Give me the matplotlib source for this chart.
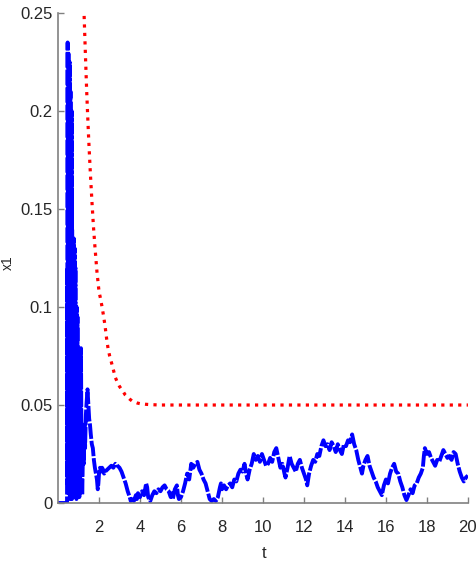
import matplotlib
matplotlib.use("Agg")
import matplotlib.pyplot as plt

plt.rcParams['font.family'] = ['Liberation Sans Narrow', 'Liberation Sans', 'DejaVu Sans']

# blue trajectory x1(t)
t_blue = [0.0, 0.44, 0.45, 0.46, 0.47, 0.48, 0.49, 0.50, 0.51, 0.52, 0.53, 0.54, 0.55, 0.56, 0.57, 0.58, 0.59,
          0.60, 0.61, 0.62, 0.63, 0.64, 0.65, 0.66, 0.67, 0.68, 0.69, 0.70, 0.71, 0.72, 0.73, 0.74, 0.75, 0.76,
          0.77, 0.78, 0.79, 0.80, 0.81, 0.82, 0.83, 0.84, 0.85, 0.86, 0.87, 0.88, 0.89, 0.90, 0.91, 0.92, 0.93,
          0.94, 0.95, 0.96, 0.97, 0.98, 0.99, 1.00, 1.02, 1.04, 1.06, 1.08, 1.10, 1.12, 1.14, 1.16, 1.18, 1.20,
          1.23, 1.26, 1.29, 1.32, 1.36, 1.40, 1.44, 1.48, 1.52, 1.56, 1.60, 1.65, 1.70, 1.75, 1.80, 1.85, 1.90,
          1.94, 1.97, 2.0, 2.05, 2.1, 2.15, 2.2, 2.25, 2.3, 2.4, 2.5, 2.6, 2.7, 2.8, 2.9, 3.0, 3.1, 3.2, 3.3,
          3.4, 3.5, 3.55, 3.6, 3.7, 3.8, 3.85, 3.9, 4.0, 4.1, 4.2, 4.3, 4.35, 4.4, 4.5, 4.6, 4.7, 4.8, 4.9, 5.0,
          5.1, 5.2, 5.3, 5.4, 5.5, 5.55, 5.6, 5.7, 5.8, 5.85, 5.9, 6.0, 6.1, 6.2, 6.3, 6.4, 6.5, 6.6, 6.7, 6.8,
          6.9, 7.0, 7.1, 7.2, 7.3, 7.4, 7.5, 7.6, 7.7, 7.8, 7.9, 7.95, 8.0, 8.1, 8.2, 8.3, 8.4, 8.5, 8.6, 8.7,
          8.8, 8.9, 9.0, 9.1, 9.2, 9.25, 9.35, 9.45, 9.55, 9.65, 9.75, 9.85, 9.95, 10.05, 10.15, 10.25, 10.35,
          10.45, 10.55, 10.65, 10.75, 10.85, 10.95, 11.05, 11.1, 11.2, 11.3, 11.4, 11.5, 11.6, 11.7, 11.8, 11.9,
          12.0, 12.1, 12.16, 12.25, 12.35, 12.45, 12.55, 12.65, 12.75, 12.85, 12.95, 13.05, 13.15, 13.25, 13.35,
          13.45, 13.55, 13.65, 13.75, 13.85, 13.95, 14.05, 14.15, 14.25, 14.35, 14.45, 14.55, 14.65, 14.75,
          14.83, 14.9, 15.0, 15.1, 15.2, 15.3, 15.4, 15.5, 15.6, 15.7, 15.8, 15.9, 16.0, 16.1, 16.2, 16.3, 16.4,
          16.5, 16.6, 16.7, 16.8, 16.9, 17.0, 17.1, 17.2, 17.3, 17.4, 17.5, 17.6, 17.7, 17.8, 17.85, 17.9, 18.0,
          18.1, 18.2, 18.3, 18.4, 18.5, 18.6, 18.7, 18.8, 18.9, 19.0, 19.1, 19.2, 19.3, 19.4, 19.5, 19.6, 19.7,
          19.8, 19.9, 20.0]
x1_blue = [0.0, 0.0, 0.12, 0.01, 0.235, 0.02, 0.21, 0.005, 0.23, 0.03, 0.22, 0.01, 0.20, 0.04, 0.225, 0.002, 0.19,
           0.02, 0.21, 0.05, 0.18, 0.01, 0.16, 0.03, 0.20, 0.002, 0.14, 0.04, 0.135, 0.01, 0.13, 0.06, 0.12, 0.003,
           0.135, 0.02, 0.11, 0.05, 0.13, 0.004, 0.10, 0.03, 0.12, 0.01, 0.10, 0.04, 0.09, 0.002, 0.10, 0.03, 0.08,
           0.01, 0.095, 0.02, 0.06, 0.005, 0.05, 0.01, 0.045, 0.003, 0.03, 0.01, 0.05, 0.079, 0.04, 0.02, 0.004, 0.015,
           0.035, 0.02, 0.04, 0.028, 0.045, 0.052, 0.058, 0.05, 0.043, 0.04, 0.035, 0.03, 0.028, 0.022, 0.018, 0.015, 0.012,
           0.007, 0.01, 0.015, 0.018, 0.016, 0.018, 0.017, 0.015, 0.016, 0.017, 0.018, 0.019, 0.018, 0.02, 0.019, 0.018, 0.016, 0.013, 0.01,
           0.006, 0.003, 0.001, 0.002, 0.001, 0.004, 0.002, 0.005, 0.003, 0.006, 0.004, 0.01, 0.008, 0.003, 0.001, 0.004, 0.006, 0.005, 0.007, 0.006,
           0.008, 0.009, 0.007, 0.006, 0.003, 0.005, 0.002, 0.007, 0.009, 0.004, 0.002, 0.003, 0.006, 0.01, 0.015, 0.012, 0.02, 0.018, 0.02, 0.021,
           0.017, 0.015, 0.012, 0.01, 0.006, 0.002, 0.001, 0.002, 0.001, 0.003, 0.008, 0.01, 0.007, 0.009, 0.007, 0.009, 0.01, 0.008, 0.012, 0.011,
           0.015, 0.017, 0.016, 0.02, 0.014, 0.012, 0.017, 0.02, 0.025, 0.022, 0.024, 0.021, 0.025, 0.022, 0.019, 0.02, 0.023,
           0.021, 0.026, 0.028, 0.023, 0.018, 0.02, 0.015, 0.013, 0.018, 0.024, 0.02, 0.018, 0.016, 0.02, 0.022, 0.018,
           0.015, 0.012, 0.009, 0.015, 0.019, 0.022, 0.021, 0.025, 0.024, 0.029, 0.032, 0.029, 0.03, 0.027, 0.031,
           0.029, 0.026, 0.03, 0.027, 0.025, 0.03, 0.029, 0.032, 0.031, 0.035, 0.03, 0.027, 0.022, 0.018,
           0.015, 0.019, 0.022, 0.024, 0.019, 0.016, 0.013, 0.011, 0.008, 0.006, 0.004, 0.009, 0.012, 0.01, 0.015, 0.018, 0.02,
           0.016, 0.015, 0.011, 0.008, 0.004, 0.0015, 0.004, 0.007, 0.005, 0.009, 0.01, 0.013, 0.015, 0.018, 0.024, 0.028, 0.025,
           0.026, 0.023, 0.021, 0.019, 0.022, 0.021, 0.024, 0.027, 0.025, 0.023, 0.024, 0.022, 0.026, 0.025, 0.02, 0.016, 0.013,
           0.011, 0.013, 0.014]

# red bound curve
t_red = [1.2, 1.27, 1.34, 1.4, 1.45, 1.5, 1.58, 1.66, 1.73, 1.8, 1.9, 2.0, 2.08, 2.15, 2.23, 2.3, 2.37, 2.44, 2.52,
         2.6, 2.7, 2.8, 2.88, 3.0, 3.1, 3.2, 3.27, 3.4, 3.5, 3.62, 3.75, 3.87, 4.0, 4.25, 4.5, 5.0, 20.0]
x1_red = [0.27, 0.25, 0.228, 0.21, 0.197, 0.185, 0.168, 0.153, 0.141, 0.131, 0.118, 0.108, 0.104, 0.1, 0.095, 0.09,
          0.084, 0.079, 0.075, 0.072, 0.068, 0.064, 0.062, 0.0595, 0.058, 0.0565, 0.0553, 0.054, 0.053, 0.052, 0.0515,
          0.051, 0.0507, 0.0504, 0.0502, 0.05, 0.05]

fig = plt.figure(figsize=(4.77, 5.69), dpi=100)
ax = fig.add_axes([0.1216, 0.116, 0.8594, 0.861])

ax.plot(t_blue, x1_blue, color='#0000ff', linestyle='--', linewidth=2.8, dashes=(4, 0.5))
ax.plot(t_red, x1_red, color='#ff0000', linestyle=':', linewidth=2.3)

ax.set_xlim(0, 20)
ax.set_ylim(0, 0.25)
ax.set_xticks([2, 4, 6, 8, 10, 12, 14, 16, 18, 20])
ax.set_yticks([0, 0.05, 0.1, 0.15, 0.2, 0.25])
ax.set_yticklabels(['0', '0.05', '0.1', '0.15', '0.2', '0.25'])

for s in ['top', 'right']:
    ax.spines[s].set_visible(False)
for s in ['left', 'bottom']:
    ax.spines[s].set_color('#808080')
    ax.spines[s].set_linewidth(1.2)

ax.tick_params(direction='in', length=4, width=1, colors='#808080', labelcolor='#262626', labelsize=12)
ax.tick_params(axis='x', pad=12)
ax.tick_params(axis='y', pad=4)
ax.set_xlabel('t', fontsize=12, color='#262626')
ax.set_ylabel('x1', fontsize=10, color='#262626')
ax.xaxis.set_label_coords(0.502, -0.088)
ax.yaxis.set_label_coords(-0.105, 0.49)

fig.savefig('out.png', dpi=100)
